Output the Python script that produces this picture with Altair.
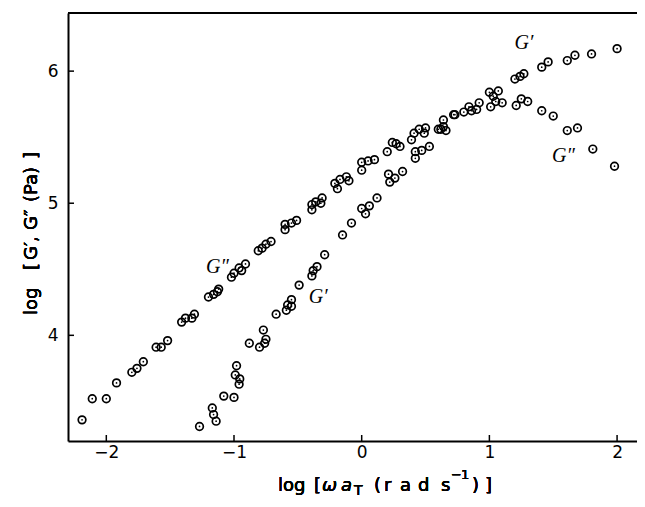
import altair as alt
import pandas as pd

# G' (storage modulus) data: log(omega a_T), log G'
gp_x = [-1.27, -1.17, -1.16, -1.14, -1.08, -1.00, -0.98, -0.99, -0.955, -0.96,
        -0.88, -0.80, -0.77, -0.75, -0.76, -0.67, -0.59, -0.58, -0.55, -0.55,
        -0.49, -0.39, -0.38, -0.35, -0.29, -0.15, -0.08, 0.00, 0.03, 0.06,
        0.12, 0.21, 0.22, 0.26, 0.32, 0.42, 0.42, 0.47, 0.53, 0.62,
        0.64, 0.66, 0.80, 0.86, 0.92, 1.00, 1.03, 1.07, 1.20, 1.24,
        1.27, 1.41, 1.46, 1.61, 1.67, 1.80, 2.00]
gp_y = [3.31, 3.45, 3.40, 3.35, 3.54, 3.53, 3.77, 3.70, 3.67, 3.63,
        3.94, 3.91, 4.04, 3.97, 3.94, 4.16, 4.19, 4.23, 4.27, 4.22,
        4.38, 4.45, 4.49, 4.52, 4.61, 4.76, 4.85, 4.96, 4.92, 4.98,
        5.04, 5.22, 5.16, 5.19, 5.24, 5.39, 5.34, 5.40, 5.43, 5.56,
        5.58, 5.55, 5.69, 5.70, 5.76, 5.84, 5.81, 5.85, 5.94, 5.96,
        5.98, 6.03, 6.07, 6.08, 6.12, 6.13, 6.17]

# G'' (loss modulus) data
gpp_x = [-2.19, -2.11, -2.00, -1.92, -1.80, -1.76, -1.71, -1.61, -1.57, -1.52,
         -1.41, -1.38, -1.33, -1.31, -1.20, -1.16, -1.13, -1.12, -1.02, -1.00,
         -0.96, -0.91, -0.94, -0.81, -0.78, -0.75, -0.71, -0.60, -0.60, -0.55,
         -0.51, -0.39, -0.39, -0.36, -0.31, -0.32, -0.19, -0.21, -0.17, -0.12,
         -0.10, 0.00, 0.00, 0.05, 0.10, 0.20, 0.24, 0.27, 0.30, 0.39,
         0.41, 0.45, 0.50, 0.49, 0.60, 0.64, 0.73, 0.72, 0.84, 0.90,
         1.01, 1.05, 1.10, 1.21, 1.25, 1.30, 1.41, 1.50, 1.61, 1.69,
         1.81, 1.98]
gpp_y = [3.36, 3.52, 3.52, 3.64, 3.72, 3.75, 3.80, 3.91, 3.91, 3.96,
         4.10, 4.13, 4.13, 4.16, 4.29, 4.31, 4.33, 4.35, 4.44, 4.47,
         4.51, 4.54, 4.49, 4.64, 4.66, 4.69, 4.71, 4.80, 4.84, 4.85,
         4.87, 4.95, 4.99, 5.01, 5.04, 5.00, 5.11, 5.15, 5.18, 5.20,
         5.17, 5.25, 5.31, 5.32, 5.33, 5.39, 5.46, 5.45, 5.43, 5.48,
         5.53, 5.56, 5.57, 5.53, 5.56, 5.63, 5.67, 5.67, 5.73, 5.71,
         5.73, 5.77, 5.76, 5.74, 5.79, 5.77, 5.70, 5.66, 5.55, 5.57,
         5.41, 5.28]

# curve labels
label_text = ["G\u2033", "G\u2032", "G\u2032", "G\u2033"]
label_x = [-1.13, -0.34, 1.27, 1.58]
label_y = [4.52, 4.29, 6.21, 5.36]

x_ticks = [-2, -1, 0, 1, 2]
y_ticks = [4, 5, 6]

W, H = 569, 428
FONT = "DejaVu Sans"

df = pd.DataFrame({
    "x": gp_x + gpp_x,
    "y": gp_y + gpp_y,
    "series": ["G'"] * len(gp_x) + ["G''"] * len(gpp_x),
})
df_lab = pd.DataFrame({"x": label_x, "y": label_y, "t": label_text})
df_xt = pd.DataFrame({"x": x_ticks})
df_yt = pd.DataFrame({"y": y_ticks})

xs = alt.Scale(domain=[-2.30, 2.156], nice=False, zero=False)
ys = alt.Scale(domain=[3.20, 6.44], nice=False, zero=False)

base_x = alt.X("x:Q", scale=xs, title=None,
               axis=alt.Axis(values=x_ticks, format="d", labelPadding=3))
base_y = alt.Y("y:Q", scale=ys, title=None,
               axis=alt.Axis(values=y_ticks, format="d", labelPadding=10))

rings = alt.Chart(df).mark_point(shape="circle", filled=False, color="black",
                                 size=58, strokeWidth=1.7, opacity=1).encode(
    x=base_x, y=base_y)
dots = alt.Chart(df).mark_point(shape="circle", filled=True, color="black",
                                size=3, opacity=1).encode(
    x=alt.X("x:Q", title=None), y=alt.Y("y:Q", title=None))

labels = alt.Chart(df_lab).mark_text(font="Liberation Serif", fontStyle="italic",
                                     fontSize=20, color="black").encode(
    x=alt.X("x:Q", title=None), y=alt.Y("y:Q", title=None), text="t:N")

xtick = alt.Chart(df_xt).mark_rule(color="black", strokeWidth=1.5).encode(
    x=alt.X("x:Q", title=None), y=alt.value(H), y2=alt.value(H - 6))
ytick = alt.Chart(df_yt).mark_rule(color="black", strokeWidth=1.5).encode(
    y=alt.Y("y:Q", title=None), x=alt.value(0), x2=alt.value(6))

top = alt.Chart(df_xt).mark_rule(color="black", strokeWidth=2).encode(
    x=alt.value(0), x2=alt.value(W), y=alt.value(0))


def txt(s, x, y, size=18, angle=0, style="normal"):
    m = alt.Chart(df_xt).mark_text(text=s, font=FONT, fontSize=size, color="black",
                                   align="left", baseline="alphabetic", angle=angle,
                                   fontStyle=style)
    return m.encode(x=alt.value(x), y=alt.value(y))


# x-axis title, spaced like the reference
XB = 478
x_title = [
    txt("log", 210, XB),
    txt("[", 246, XB), txt("\u03c9", 254, XB, style="italic"),
    txt("a", 273, XB, style="italic"),
    txt("T", 286, XB + 4, size=14),
    txt("(", 306, XB), txt("r", 316, XB), txt("a", 332, XB), txt("d", 350, XB),
    txt("s", 373, XB),
    txt("\u2212", 383, XB - 12, size=13), txt("1", 393, XB - 12, size=13),
    txt(")", 404, XB), txt("]", 417, XB),
]

# y-axis title (rotated), pieces placed bottom-to-top
YX = -31
y_title = [
    txt("log", YX, 302, angle=270),
    txt("[", YX, 257, angle=270),
    txt("G\u2032,", YX, 247, angle=270),
    txt("G\u2033", YX, 217, angle=270),
    txt("(Pa)", YX, 189, angle=270),
    txt("]", YX, 146, angle=270),
]

chart = alt.layer(top, xtick, ytick, rings, dots, labels, *x_title, *y_title).properties(
    width=W, height=H,
    autosize=alt.AutoSizeParams(type="none"),
    padding={"left": 60, "top": 5, "right": 0, "bottom": 58},
).configure_view(stroke=None).configure_axis(
    grid=False, ticks=False, domain=True, domainColor="black", domainWidth=2,
    labelFont=FONT, labelFontSize=17, labelColor="black",
)

chart.save("out.html", embed_options={"renderer": "svg", "actions": False})
